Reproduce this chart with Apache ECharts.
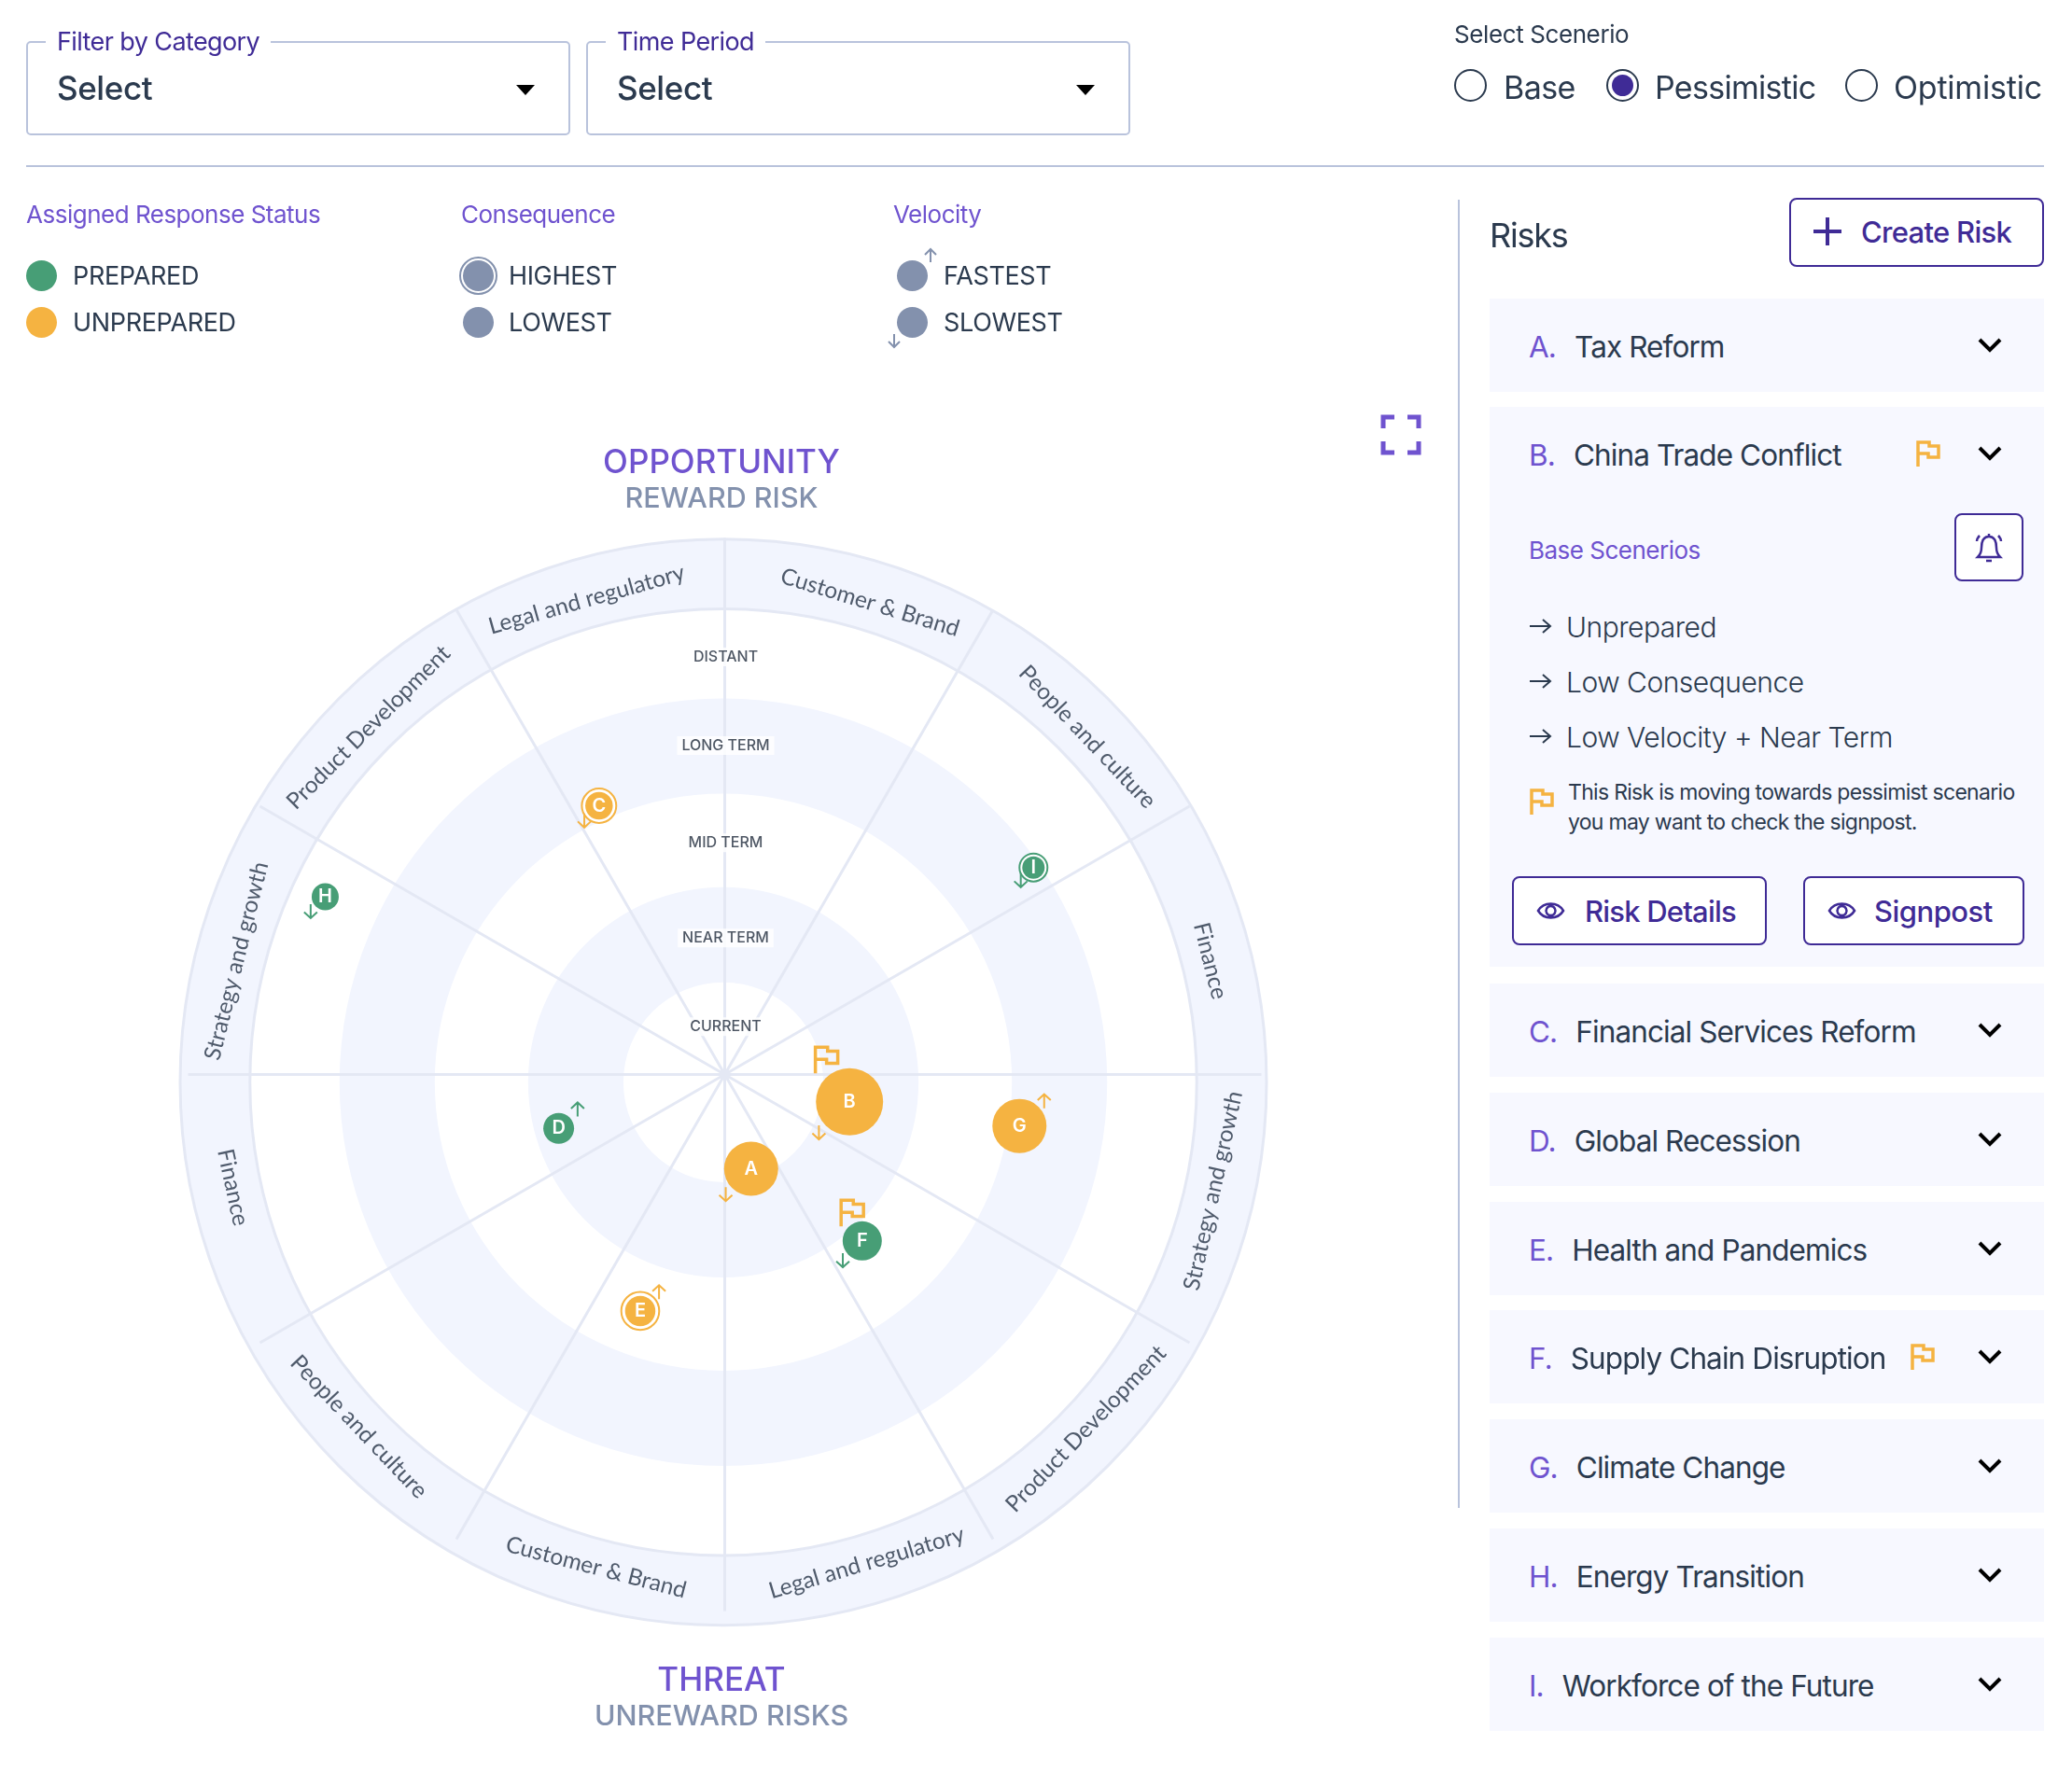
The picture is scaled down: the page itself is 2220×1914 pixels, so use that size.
<!DOCTYPE html>
<html>
<head>
<meta charset="utf-8">
<title>Risk Radar</title>
<script src="https://cdn.jsdelivr.net/npm/echarts@6/dist/echarts.min.js"></script>
<style>
html,body{margin:0;padding:0;background:#fff;}
body{width:2220px;height:1914px;position:relative;overflow:hidden;font-family:Inter,sans-serif;color:#2b3a4e;}
#radar{position:absolute;left:0;top:0;width:2220px;height:1914px;}
.abs{position:absolute;white-space:nowrap;}
.mid{transform:translateY(-50%);}
.selectBox{position:absolute;top:44px;height:101px;width:583px;box-sizing:border-box;border:2px solid #b9c3dc;border-radius:5px;}
.selectBox .lab{position:absolute;left:19px;top:-18px;background:#fff;padding:0 12px;font-size:27px;letter-spacing:-.6px;color:#3f2b96;line-height:34px;}
.selectBox .val{position:absolute;left:31px;top:27px;font-size:35px;line-height:42px;font-weight:500;letter-spacing:-.4px;}
.selectBox .caret{position:absolute;right:36px;top:45px;width:0;height:0;border-left:10px solid transparent;border-right:10px solid transparent;border-top:11px solid #000;}
.radio{position:absolute;top:74px;width:35px;height:35px;box-sizing:border-box;border:2.5px solid #2b3a4e;border-radius:50%;}
.radio.on::after{content:"";position:absolute;left:3.5px;top:3.5px;width:23px;height:23px;border-radius:50%;background:#3f2b96;}
.rule{position:absolute;background:#b9c3dc;}
.dot{position:absolute;width:33px;height:33px;border-radius:50%;}
.panel{position:absolute;left:1596px;width:594px;background:#f7f8ff;}
.row{position:absolute;left:42px;top:51px;transform:translateY(-50%);font-size:31.5px;letter-spacing:-.9px;white-space:nowrap;}
.row b{font-weight:400;color:#6f53cf;margin-right:20px;}
.btn{position:absolute;box-sizing:border-box;border:2px solid #3f2b96;border-radius:8px;background:#fff;color:#3f2b96;font-weight:500;white-space:nowrap;}
svg{position:absolute;overflow:visible;}
</style>
</head>
<body>
<div id="radar"></div>
<div id="chrome"></div>
<script type="text/javascript">
// sectors, clockwise from the top
var sectorLabels = ['Customer & Brand','People and culture','Finance','Strategy and growth','Product Development','Legal and regulatory',
                    'Customer & Brand','People and culture','Finance','Strategy and growth','Product Development','Legal and regulatory'];
var sectorAngle = [17,46.5,76,102.5,133.7,163.4,194.7,226.6,257.9,284,315,344.2];
// time horizon rings
var termLabels = ['CURRENT','NEAR TERM','MID TERM','LONG TERM','DISTANT'];
var termRadius = [0.59,1.53,2.54,3.57,4.51];
var bandInner = [1.06,3.06,5.02];
var bandOuter = [2.07,4.07,5.76];
// risks
var riskLetters = ['A','B','C','D','E','F','G','H','I'];
var riskNames = ['Tax Reform','China Trade Conflict','Financial Services Reform','Global Recession','Health and Pandemics','Supply Chain Disruption','Climate Change','Energy Transition','Workforce of the Future'];
var riskTerm = [0.964,1.354,3.215,1.813,2.581,2.236,3.174,4.658,4.0];
var riskAngle = [162.2,98.8,335.8,254.35,199.96,138.8,98.4,295,55.3];
var riskConsequence = [7.2,10,1.5,2.2,2.1,4,7.2,1.4,0.4];
var riskHighest = [0,0,1,0,1,0,0,0,1];
var riskPrepared = [0,0,0,1,0,1,0,1,1];
var riskVelocity = [-1,-1,-1,1,1,-1,1,-1,-1];
var riskFlagged = [0,1,0,0,0,1,0,0,0];
var scenarioNotes = ['Unprepared','Low Consequence','Low Velocity + Near Term'];

var GREEN = '#479e76', ORANGE = '#f5b341', PURPLE = '#6f53cf', INDIGO = '#3f2b96', DARK = '#2b3a4e', SLATE = '#8391ad';
var FLAG_PATH = 'M2 28V2H14V6H24V18H13V14H2';
var ARROW_DOWN = 'M7 0V14M1 8L7 14L13 8';
var ARROW_UP = 'M7 14V0M1 6L7 0L13 6';
var ARROW_RIGHT = 'M0 8H22M14 1L22 8L14 15';
var CHEVRON = 'M1 1L12 12L23 1';
var FONT = 'Inter, sans-serif';

var chart = echarts.init(document.getElementById('radar'));

function renderBand(params, api) {
    var cs = params.coordSys;
    var outer = api.coord([api.value(0), 0]);
    var inner = api.coord([api.value(2), 0]);
    var r = Math.abs(outer[1] - cs.cy), r0 = Math.abs(inner[1] - cs.cy);
    var last = params.dataIndex === bandOuter.length - 1;
    return {
        type: 'ring',
        shape: {cx: cs.cx, cy: cs.cy, r: r, r0: r0},
        style: {fill: '#f2f5fe', stroke: last ? '#e4e8f4' : null, lineWidth: last ? 3 : 0}
    };
}

function renderRisk(params, api) {
    var i = params.dataIndex;
    var c = api.coord([api.value(0), api.value(1)]);
    var r = (22 + 5 * api.value(2)) / 2;
    var color = riskPrepared[i] ? GREEN : ORANGE;
    var kids = [];
    if (riskFlagged[i]) {
        var fx = c[0] - (0.93 * r - 8.9), fy = c[1] - (r + 8.5);
        kids.push({type: 'path', shape: {pathData: FLAG_PATH, x: fx - 12, y: fy - 14, width: 24, height: 28, layout: 'cover'},
            style: {fill: 'none', stroke: ORANGE, lineWidth: 3.5}});
    }
    if (riskHighest[i]) {
        kids.push({type: 'circle', shape: {cx: c[0], cy: c[1], r: r * 1.25}, style: {fill: '#fff', stroke: color, lineWidth: 2}});
    }
    kids.push({type: 'circle', shape: {cx: c[0], cy: c[1], r: r}, style: {fill: color}});
    kids.push({type: 'text', style: {text: riskLetters[i], x: c[0], y: c[1], align: 'center', verticalAlign: 'middle', fill: '#fff', font: '600 20px ' + FONT}});
    var up = riskVelocity[i] > 0;
    var d = up ? r * 0.5 + 12 : r * 0.8 + 4;
    var ax = up ? c[0] + d : c[0] - d, ay = up ? c[1] - d : c[1] + d;
    kids.push({type: 'path', shape: {pathData: up ? ARROW_UP : ARROW_DOWN, x: ax - 7, y: ay - 7.5, width: 14, height: 15, layout: 'cover'},
        style: {fill: 'none', stroke: color, lineWidth: 2}});
    return {type: 'group', children: kids};
}

var bandData = bandOuter.map(function (v, i) { return [v, 0, bandInner[i]]; });
var sectorData = sectorLabels.map(function (name, i) {
    var a = sectorAngle[i];
    return {value: [5.32, a], name: name, label: {rotate: -(((a + 90) % 180) - 90)}};
});
var termData = termLabels.map(function (name, i) { return {value: [termRadius[i], 0], name: name}; });
var riskData = riskLetters.map(function (l, i) { return [riskTerm[i], riskAngle[i], riskConsequence[i]]; });

function headTitle(text, top, size, color, weight) {
    return {text: text, left: 773, top: top, textAlign: 'center', padding: 0,
        textStyle: {fontFamily: FONT, fontSize: size, fontWeight: weight, color: color}};
}

chart.setOption({
    animation: false,
    title: [
        headTitle('OPPORTUNITY', 479, 35, PURPLE, 500),
        headTitle('REWARD RISK', 519, 30.5, SLATE, 500),
        headTitle('THREAT', 1784, 35, PURPLE, 500),
        headTitle('UNREWARD RISKS', 1824, 30.5, SLATE, 500)
    ],
    polar: [
        {center: [775, 1159.8], radius: 582},
        {center: [776.5, 1151.5], radius: 575}
    ],
    angleAxis: [
        {polarIndex: 0, type: 'value', min: 0, max: 360, startAngle: 90, show: false},
        {polarIndex: 1, type: 'value', min: 0, max: 360, interval: 30, startAngle: 90, z: 1,
            axisLine: {show: false}, axisTick: {show: false}, axisLabel: {show: false},
            splitLine: {show: true, lineStyle: {color: '#e4e8f4', width: 3}}}
    ],
    radiusAxis: [
        {polarIndex: 0, type: 'value', min: 0, max: 5.76, show: false},
        {polarIndex: 1, type: 'value', min: 0, max: 1, show: false}
    ],
    series: [
        {type: 'custom', coordinateSystem: 'polar', polarIndex: 0, z: 0, silent: true, renderItem: renderBand, data: bandData},
        {type: 'scatter', coordinateSystem: 'polar', polarIndex: 0, z: 3, symbolSize: 1, itemStyle: {color: 'transparent'}, silent: true,
            label: {show: true, position: 'inside', formatter: '{b}', fontFamily: 'Lato', fontSize: 24.5, color: '#253346'},
            data: sectorData},
        {type: 'scatter', coordinateSystem: 'polar', polarIndex: 0, z: 3, symbolSize: 1, itemStyle: {color: 'transparent'}, silent: true,
            label: {show: true, position: 'inside', formatter: '{b}', offset: [2.5, 0], fontFamily: FONT, fontSize: 16, fontWeight: 500, color: '#1f2b3b',
                backgroundColor: '#fff', padding: [2, 5]},
            data: termData},
        {type: 'custom', coordinateSystem: 'polar', polarIndex: 0, z: 5, silent: true, renderItem: renderRisk, data: riskData}
    ]
});

// dashboard around the chart
function icon(path, x, y, w, h, stroke, sw) {
    return '<svg style="left:' + x + 'px;top:' + y + 'px" width="' + w + '" height="' + h + '"><path d="' + path + '" fill="none" stroke="' + stroke + '" stroke-width="' + sw + '"/></svg>';
}
function text(str, x, y, css) {
    return '<div class="abs mid" style="left:' + x + 'px;top:' + y + 'px;' + (css || '') + '">' + str + '</div>';
}
var EYE = 'M1 10C7 0 22 0 28 10C22 20 7 20 1 10ZM14.5 5a5 5 0 1 0 .01 0Z';
var LEG = 'font-size:27px;letter-spacing:-.35px;';
var HEAD = 'font-size:26px;letter-spacing:-.5px;color:' + PURPLE;
var html = '';
html += '<div class="selectBox" style="left:28px"><div class="lab">Filter by Category</div><div class="val">Select</div><div class="caret"></div></div>';
html += '<div class="selectBox" style="left:628px"><div class="lab">Time Period</div><div class="val">Select</div><div class="caret"></div></div>';
html += text('Select Scenerio', 1558, 36, 'font-size:26px;letter-spacing:-.4px;');
html += '<div class="radio" style="left:1558px"></div><div class="radio on" style="left:1721px"></div><div class="radio" style="left:1977px"></div>';
html += text('Base', 1611, 93, 'font-size:34px;letter-spacing:-.6px;');
html += text('Pessimistic', 1773, 93, 'font-size:34px;letter-spacing:-.7px;');
html += text('Optimistic', 2029, 93, 'font-size:34px;letter-spacing:-.2px;');
html += '<div class="rule" style="left:28px;top:177px;width:2162px;height:2px"></div>';
html += '<div class="rule" style="left:1562px;top:214px;width:2px;height:1402px"></div>';

// legend
html += text('Assigned Response Status', 28, 229, HEAD);
html += text('Consequence', 494, 229, HEAD);
html += text('Velocity', 957, 229, HEAD);
html += '<div class="dot" style="left:28px;top:279px;background:' + GREEN + '"></div>' + text('PREPARED', 78, 295, LEG);
html += '<div class="dot" style="left:28px;top:329px;background:' + ORANGE + '"></div>' + text('UNPREPARED', 78, 345, LEG);
html += '<div class="dot" style="left:496px;top:279px;background:' + SLATE + '"></div><div class="dot" style="left:492px;top:275px;width:37px;height:37px;border:2px solid ' + SLATE + '"></div>' + text('HIGHEST', 545, 295, LEG);
html += '<div class="dot" style="left:496px;top:329px;background:' + SLATE + '"></div>' + text('LOWEST', 545, 345, LEG);
html += '<div class="dot" style="left:961px;top:279px;background:' + SLATE + '"></div>' + text('FASTEST', 1011, 295, LEG);
html += icon(ARROW_UP, 990, 267, 14, 15, SLATE, 2);
html += '<div class="dot" style="left:961px;top:329px;background:' + SLATE + '"></div>' + text('SLOWEST', 1011, 345, LEG);
html += icon(ARROW_DOWN, 951, 358, 14, 15, SLATE, 2);
// expand icon
html += icon('M2 14V2H14M28 2H40V14M2 28V40H14M28 40H40V28', 1480, 445, 42, 42, PURPLE, 5);

// risk panel
html += text('Risks', 1596, 252, 'font-size:36px;letter-spacing:-1.2px;');
html += '<div class="btn" style="left:1917px;top:212px;width:273px;height:74px"></div>';
html += icon('M15 0V30M0 15H30', 1943, 233, 30, 30, INDIGO, 4);
html += text('Create Risk', 1994, 248, 'font-size:31px;letter-spacing:-.7px;font-weight:500;color:' + INDIGO);

var panelTop = [320,436,1054,1171,1288,1404,1521,1638,1755];
var panelH = [100,600,100,100,100,100,100,100,100];
for (var i = 0; i < riskNames.length; i++) {
    html += '<div class="panel" style="top:' + panelTop[i] + 'px;height:' + panelH[i] + 'px"><div class="row"><b>' + riskLetters[i] + '.</b>' + riskNames[i] + '</div></div>';
    html += icon(CHEVRON, 2120, panelTop[i] + 43, 24, 13, '#000', 4);
    if (riskFlagged[i]) html += icon(FLAG_PATH, i === 1 ? 2053 : 2047, panelTop[i] + 36, 24, 28, ORANGE, 3.5);
}
// expanded panel content
html += text('Base Scenerios', 1638, 589, 'font-size:26px;letter-spacing:-.5px;color:' + PURPLE);
html += '<div class="btn" style="left:2094px;top:550px;width:74px;height:73px"></div>';
html += icon('M15 3C8 3 7 9 7 15C7 20 5 23 3 25H27C25 23 23 20 23 15C23 9 22 3 15 3ZM12 29H18M15 0V3M2 8C2 6 3 4 5 2M28 8C28 6 27 4 25 2', 2116, 572, 30, 30, INDIGO, 2.5);
var noteY = [672,731,790];
for (var n = 0; n < scenarioNotes.length; n++) {
    html += icon(ARROW_RIGHT, 1639, noteY[n] - 9, 23, 16, DARK, 2);
    html += text(scenarioNotes[n], 1678, noteY[n], 'font-size:30px;letter-spacing:-.5px;font-weight:300;');
}
html += icon(FLAG_PATH, 1639, 845, 24, 28, ORANGE, 3.5);
html += text('This Risk is moving towards pessimist scenario', 1680, 849, 'font-size:23px;letter-spacing:-.7px;');
html += text('you may want to check the signpost.', 1680, 881, 'font-size:23px;letter-spacing:-.7px;');
html += '<div class="btn" style="left:1620px;top:939px;width:273px;height:74px"></div>';
html += '<div class="btn" style="left:1932px;top:939px;width:237px;height:74px"></div>';
html += icon(EYE, 1647, 966, 29, 20, INDIGO, 2.5) + text('Risk Details', 1698, 976, 'font-size:31px;letter-spacing:-.8px;font-weight:500;color:' + INDIGO);
html += icon(EYE, 1959, 966, 29, 20, INDIGO, 2.5) + text('Signpost', 2008, 976, 'font-size:31px;letter-spacing:-.5px;font-weight:500;color:' + INDIGO);
document.getElementById('chrome').innerHTML = html;
</script>
</body>
</html>
